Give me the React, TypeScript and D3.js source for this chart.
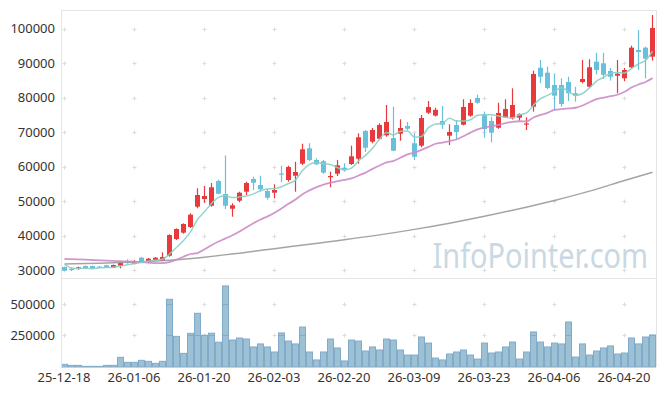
import React from 'react';
import * as d3 from 'd3';

const dates = [
  "25-12-18","25-12-19","25-12-22","25-12-23","25-12-24","25-12-26","25-12-29","25-12-30",
  "26-01-02","26-01-05","26-01-06","26-01-07","26-01-08","26-01-09","26-01-12","26-01-13","26-01-14","26-01-15","26-01-16","26-01-19","26-01-20","26-01-21","26-01-22","26-01-23","26-01-26","26-01-27","26-01-28","26-01-29","26-01-30",
  "26-02-02","26-02-03","26-02-04","26-02-05","26-02-06","26-02-09","26-02-10","26-02-11","26-02-12","26-02-13","26-02-19","26-02-20","26-02-23","26-02-24","26-02-25","26-02-26","26-02-27",
  "26-03-03","26-03-04","26-03-05","26-03-06","26-03-09","26-03-10","26-03-11","26-03-12","26-03-13","26-03-16","26-03-17","26-03-18","26-03-19","26-03-20","26-03-23","26-03-24","26-03-25","26-03-26","26-03-27","26-03-30","26-03-31",
  "26-04-01","26-04-02","26-04-03","26-04-06","26-04-07","26-04-08","26-04-09","26-04-10","26-04-13","26-04-14","26-04-15","26-04-16","26-04-17","26-04-20","26-04-21","26-04-22","26-04-23","26-04-24"
];

const opens = [
  30870,30330,30380,31160,31160,31000,31370,30670,31250,32500,
  31830,33570,32320,32700,32610,34150,39000,40830,42490,48380,
  50620,48670,55850,52070,47800,50120,52740,56430,54680,52940,
  52450,58020,56140,57380,60870,65340,61940,61570,56920,57960,
  59620,60780,62320,70370,67260,68130,69110,68330,69580,71820,
  66800,66100,75680,74840,73270,69000,72110,72190,74810,79950,
  75210,73270,71320,74350,74050,74230,72400,77420,88750,87300,
  83720,83720,84590,81320,84590,83230,90500,90020,87790,86420,
  85670,88860,93900,94560,91950
];
const highs = [
  31000,30780,30960,31300,31250,31200,31500,31600,32410,33100,
  32900,33780,33480,33780,35140,40370,42100,43560,46470,53730,
  54390,55260,56220,63250,49370,52740,55640,57100,57380,53520,
  54890,60290,60290,61450,66680,66800,62440,61940,58550,61940,
  60990,66100,69700,70660,71240,72600,77920,77420,73760,72980,
  69700,75010,79080,77130,77630,72310,73560,79570,79570,80900,
  76000,74520,78580,79570,82760,75500,74360,87890,90980,89040,
  87120,85670,86130,83230,90980,91180,93100,93100,88660,90980,
  88660,95150,99690,94850,104050
];
const lows = [
  29700,29710,30090,30290,30400,30800,30600,30600,30490,31830,
  31650,32240,31950,32610,32600,33860,38710,40540,42200,47920,
  49540,48380,52000,47710,45480,49660,51780,53230,52740,50420,
  50820,55470,55640,52740,60490,61650,60490,57960,54020,57300,
  58550,60490,60870,64270,66800,67750,68710,64500,67550,70570,
  61940,65600,75300,74600,70950,66300,68040,72000,74500,78300,
  68400,67080,71000,74100,73700,73360,70660,75970,84220,82500,
  76460,77420,79080,78870,84200,82900,86800,85500,85000,81320,
  84800,88500,88080,85670,90790
];
const closes = [
  29800,30290,30780,30580,30490,30960,30670,31450,32120,32470,
  32610,32410,33280,33570,33780,40160,41900,43360,46060,51780,
  51490,54020,52160,48670,48790,52450,55260,55350,53430,51000,
  53230,57960,59910,58460,65050,61940,60690,58260,57300,60400,
  58950,63020,68540,65520,70660,72110,72980,64640,71240,71030,
  62900,74140,77340,76500,72190,70080,70080,77340,78500,78580,
  70950,69870,75600,76750,77920,75210,72550,86920,86130,82850,
  80620,78200,81320,80620,85470,88860,88080,86710,86130,87000,
  88080,94560,93300,91370,100280
];
const volumes = [
  21000,13000,13000,5000,5000,5000,13000,13000,77000,37000,
  37000,53000,45000,29000,45000,537000,243000,108000,267000,426000,
  252000,268000,197000,643000,214000,230000,222000,159000,183000,159000,
  119000,270000,206000,183000,317000,119000,56000,119000,222000,151000,
  48000,214000,206000,127000,159000,135000,222000,214000,135000,95000,
  95000,238000,190000,71000,56000,103000,119000,135000,95000,63000,
  190000,111000,119000,159000,198000,63000,119000,278000,198000,159000,
  190000,183000,357000,79000,183000,95000,127000,151000,167000,103000,
  111000,230000,183000,238000,254000
];

// Moving-average values before enough closes are on the chart
const ma5Head = [31600, 30600, 30450, 30500];
const ma20Head = [33190, 33150, 33080, 33000, 32900, 32800, 32720, 32650, 32560, 32480,
  32400, 32300, 32150, 32000, 31980, 32320, 32990, 33860, 34650];
// long moving average (grey) at these bars
const maLongIdx = [0, 5, 10, 15, 20, 25, 30, 35, 40, 45, 50, 55, 60, 65, 70, 75, 80, 84];
const maLongVals = [31740, 31950, 32300, 32800, 33700, 34900, 36200, 37500, 38800, 40200,
  41800, 43600, 45600, 47800, 50200, 52900, 56000, 58400];

const priceTicks = [30000, 40000, 50000, 60000, 70000, 80000, 90000, 100000];
const volTicks = [250000, 500000];
const xTickEvery = 10;

const FONT = "'Noto Sans', 'Noto Sans CJK KR', sans-serif";

export default function App() {
  const W = 665, H = 396;
  const left = 61, right = 656, top = 10, mid = 278, bottom = 367;

  const x = d3.scaleBand<string>().domain(dates).range([left - 0.5, right - 0.5]).padding(0);
  const cx = (i: number) => (x(dates[i]) as number) + x.bandwidth() / 2;
  const y = d3.scaleLinear().domain([27680, 105500]).range([mid, top]);
  const yv = d3.scaleLinear().domain([0, 706000]).range([bottom, mid]);

  const ma = (n: number, head: number[]) =>
    closes.map((_, i) => (i >= n - 1 ? d3.mean(closes.slice(i - n + 1, i + 1)) as number : head[i]));
  const ma5 = ma(5, ma5Head);
  const ma20 = ma(20, ma20Head);

  const line = d3.line<number>().x((_, i) => cx(i) + 0.5).y(d => y(d)).curve(d3.curveMonotoneX);
  const lineLong = d3.line<number>().x((_, k) => cx(maLongIdx[k]) + 0.5).y(d => y(d)).curve(d3.curveMonotoneX);

  const xTicks = dates.map((_, i) => i).filter(i => i % xTickEvery === 0);
  const plusYs = [...priceTicks.map(v => y(v)), ...volTicks.map(v => yv(v))];

  const RED = '#e8393c', BLUE = '#68c0da';

  return (
    <svg width={W} height={H} style={{ position: 'absolute', left: 0, top: 0, background: '#fff' }}>
      {/* grid plus marks */}
      <g stroke="#dcdcdc" strokeWidth={1}>
        {xTicks.map(i => plusYs.map((py, k) => {
          const px = Math.round(cx(i)) + 0.5;
          const yy = Math.round(py) + 0.5;
          return (
            <g key={`p${i}-${k}`}>
              <line x1={px - 2} x2={px + 2} y1={yy} y2={yy} />
              <line x1={px} x2={px} y1={yy - 2} y2={yy + 2} />
            </g>
          );
        }))}
      </g>

      {/* volume bars */}
      <g>
        {volumes.map((v, i) => {
          const bx = cx(i) - 3 + 0.5;
          const by = yv(v);
          return (
            <g key={`v${i}`}>
              <rect x={bx} y={by} width={6} height={bottom - by} fill="#9cc0d4" stroke="#82abca" strokeWidth={1} />
              {volTicks.filter(t => t < v).map(t => (
                <line key={t} x1={bx} x2={bx + 6} y1={Math.round(yv(t)) + 0.5} y2={Math.round(yv(t)) + 0.5} stroke="#82abca" />
              ))}
            </g>
          );
        })}
      </g>

      {/* frame */}
      <g fill="none" stroke="#e4e4e4" strokeWidth={1}>
        <line x1={left + 0.5} x2={left + 0.5} y1={top} y2={bottom} />
        <line x1={left} x2={right} y1={top + 0.5} y2={top + 0.5} />
        <line x1={right + 0.5} x2={right + 0.5} y1={top} y2={bottom} />
        <line x1={left} x2={right} y1={mid + 0.5} y2={mid + 0.5} />
      </g>

      {/* watermark */}
      <text transform="translate(648,268) scale(0.85,1)" textAnchor="end" fontFamily={FONT} fontSize={34} fill="#c8d9e3">InfoPointer.com</text>

      {/* candles */}
      <g>
        {dates.map((d, i) => {
          const o = opens[i], c = closes[i];
          const up = c >= o;
          const col = up ? RED : BLUE;
          const yTop = y(Math.max(o, c));
          const yBot = y(Math.min(o, c));
          const px = Math.round(cx(i));
          return (
            <g key={`c${i}`}>
              <line x1={px + 0.5} x2={px + 0.5} y1={y(highs[i])} y2={y(lows[i])} stroke={col} strokeWidth={1.2} />
              <rect x={px - 2} y={yTop} width={5} height={Math.max(1.2, yBot - yTop)} fill={col} />
            </g>
          );
        })}
      </g>

      {/* moving averages */}
      <path d={lineLong(maLongVals) || ''} fill="none" stroke="#9a9a9a" strokeWidth={1.5} opacity={0.9} />
      <path d={line(ma20) || ''} fill="none" stroke="#cc8cc8" strokeWidth={1.8} opacity={0.9} />
      <path d={line(ma5) || ''} fill="none" stroke="#8ccfc4" strokeWidth={1.5} opacity={0.9} />

      {/* y labels */}
      <g fontFamily={FONT} fontSize={13} fill="#333" textAnchor="end">
        {priceTicks.map(v => (
          <text key={v} x={55} y={y(v)} dy="0.35em">{v}</text>
        ))}
        {volTicks.map(v => (
          <text key={v} x={55} y={yv(v)} dy="0.35em">{v}</text>
        ))}
      </g>

      {/* x labels */}
      <g fontFamily={FONT} fontSize={13} fill="#333" textAnchor="middle">
        {xTicks.map(i => (
          <text key={i} x={cx(i)} y={382}>{dates[i]}</text>
        ))}
      </g>
    </svg>
  );
}
